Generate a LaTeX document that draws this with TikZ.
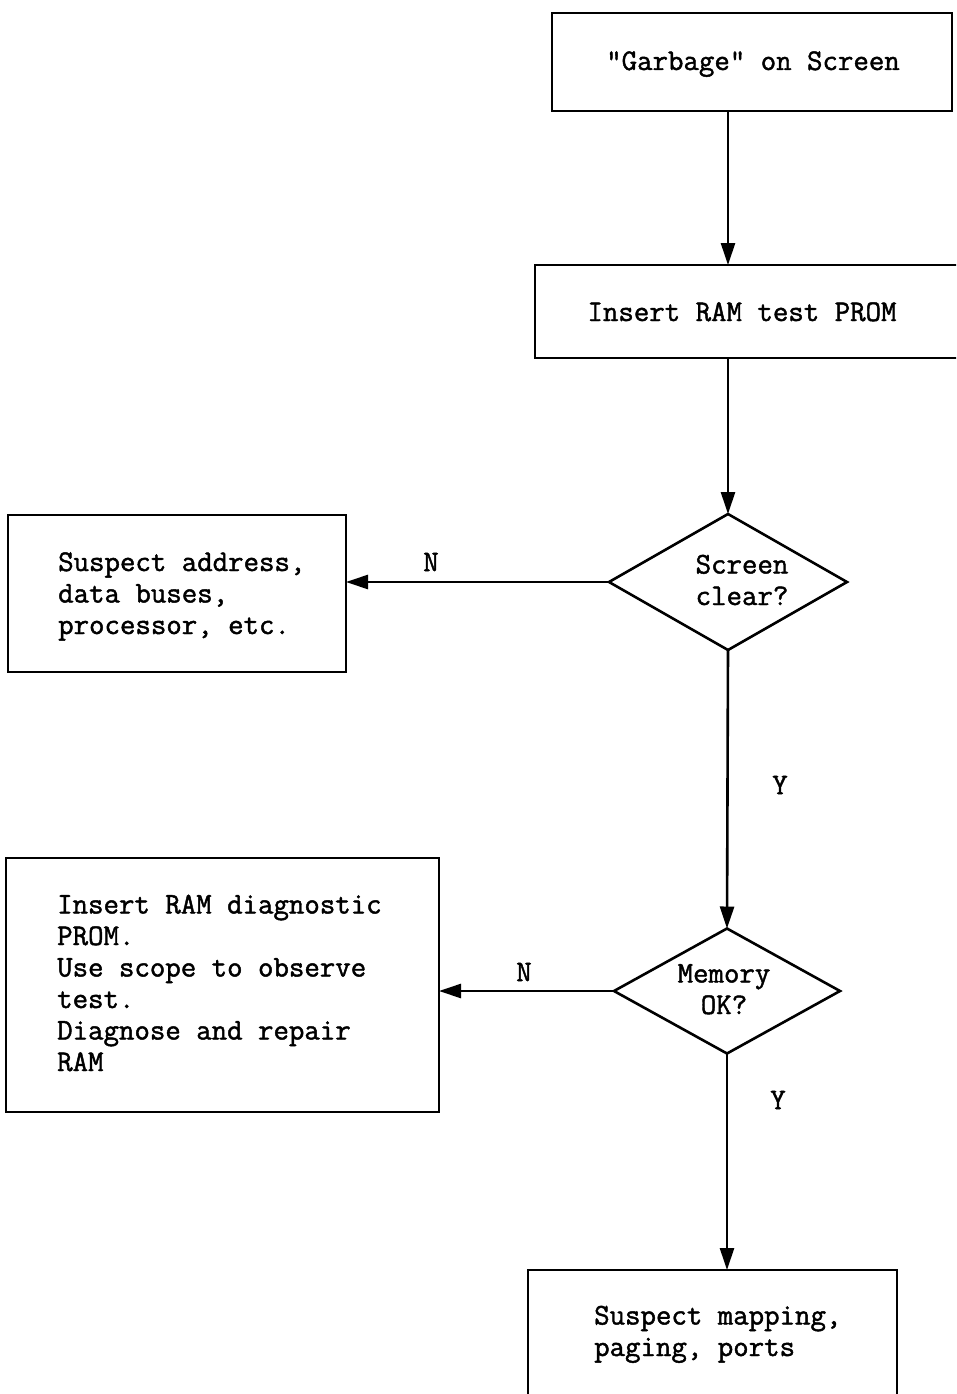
\documentclass[tikz,border=0pt]{standalone}
\usepackage{fontspec}
\newfontfamily\twfont{Latin Modern Mono}[FakeBold=1.5]
\usetikzlibrary{arrows.meta,shapes.geometric}
\begin{document}
\begin{tikzpicture}[x=1pt,y=-1pt,
  box/.style={draw,line width=2.6pt,inner sep=0pt,outer sep=0pt},
  dia/.style={draw,shape=diamond,line width=2.6pt,inner sep=0pt,outer sep=0pt},
  txt/.style={inner sep=0pt,font=\twfont\fontsize{30}{31.5}\selectfont},
  arr/.style={line width=2.6pt,-{Triangle[length=22pt,width=14pt]}}]
\useasboundingbox (0,0) rectangle (956,1394);
\clip (0,0) rectangle (956,1394);
% boxes
\node[box,minimum width=400pt,minimum height=98pt] (b1) at (752,62) {};
\node[box,minimum width=450pt,minimum height=93pt] (b2) at (760,311.5) {};
\node[dia,minimum width=238pt,minimum height=136pt] (d1) at (728,582) {};
\node[box,minimum width=338pt,minimum height=157pt] (b3) at (177,593.5) {};
\node[dia,minimum width=226pt,minimum height=125pt] (d2) at (727,991) {};
\node[box,minimum width=433pt,minimum height=254pt] (b4) at (222.5,985) {};
\node[box,minimum width=369pt,minimum height=150pt] (b5) at (712.5,1345) {};
% texts
\node[txt,anchor=base] (t1) at (753,70) {"Garbage" on Screen};
\node[txt,anchor=base] (t2) at (742,321) {Insert RAM test PROM};
\node[txt,anchor=base west,align=left] (t3) at (58,634) {Suspect address,\\data buses,\\processor, etc.};
\node[txt,anchor=base,align=left] (t4) at (742,605) {Screen\\clear?};
\node[txt,anchor=base,align=center] (t5) at (724,1014) {Memory\\OK?};
\node[txt,anchor=base west,align=left] (t6) at (57,1071) {Insert RAM diagnostic\\PROM.\\Use scope to observe\\test.\\Diagnose and repair\\RAM};
\node[txt,anchor=base west,align=left] (t7) at (594,1356) {Suspect mapping,\\paging, ports};
% labels
\node[txt] (n1) at (431,562) {N};
\node[txt] (n2) at (524,972) {N};
\node[txt] (y1) at (780,785) {Y};
\node[txt] (y2) at (778,1100) {Y};
% connectors
\draw[arr] (b1.south -| d1.north) -- (b2.north -| d1.north);
\draw[arr] (b2.south -| d1.north) -- (d1.north);
\draw[arr] (d1.west) -- (d1.west -| b3.east);
\draw[arr] (d1.south) -- (d2.north);
\draw[arr] (d2.west) -- (d2.west -| b4.east);
\draw[arr] (d2.south) -- (d2.south |- b5.north);
\end{tikzpicture}
\end{document}
